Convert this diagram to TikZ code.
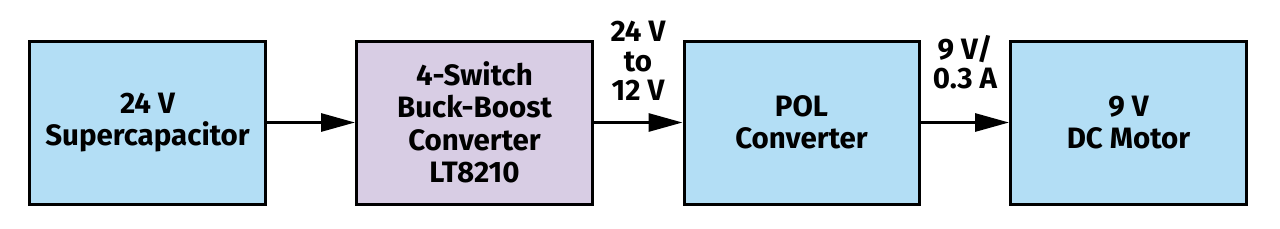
\documentclass[tikz,border=0pt]{standalone}
\usepackage{fontspec}
\setmainfont{Fira Sans}[UprightFont=* Bold, BoldFont=* Bold]
\usetikzlibrary{arrows.meta}
\definecolor{boxblue}{RGB}{179,222,245}
\definecolor{boxpurple}{RGB}{216,205,228}
\begin{document}
\begin{tikzpicture}[x=1pt,y=-1pt,
  blk/.style={draw=black, line width=3pt, minimum width=#1, minimum height=163pt, inner sep=0pt, align=center,
    font=\fontsize{29.5}{32.5}\selectfont},
  lbl/.style={align=center, font=\fontsize{29.5}{29.5}\selectfont, inner sep=0pt},
  conn/.style={line width=3pt, -{Triangle[length=34pt,width=18pt]}, shorten >=0pt}]
\useasboundingbox (0,0) rectangle (1280,228);
\node[blk=236pt, fill=boxblue] (sc) at (147.5,122.5) {24 V\\Supercapacitor};
\node[blk=236pt, fill=boxpurple] (bb) at (474.5,122.5) {4-Switch\\Buck-Boost\\Converter\\LT8210};
\node[blk=235pt, fill=boxblue] (pol) at (801.5,122.5) {POL\\Converter};
\node[blk=236pt, fill=boxblue] (dc) at (1128.5,122.5) {9 V\\DC Motor};
\draw[conn] (sc.east |- 0,122.5) -- (bb.west |- 0,122.5);
\draw[conn] (bb.east |- 0,122.5) -- (pol.west |- 0,122.5);
\draw[conn] (pol.east |- 0,122.5) -- (dc.west |- 0,122.5);
\node[lbl] (l1) at (638,61) {24 V\\to\\12 V};
\node[lbl] (l2) at (965,62) {9 V/\\0.3 A};
\end{tikzpicture}
\end{document}
